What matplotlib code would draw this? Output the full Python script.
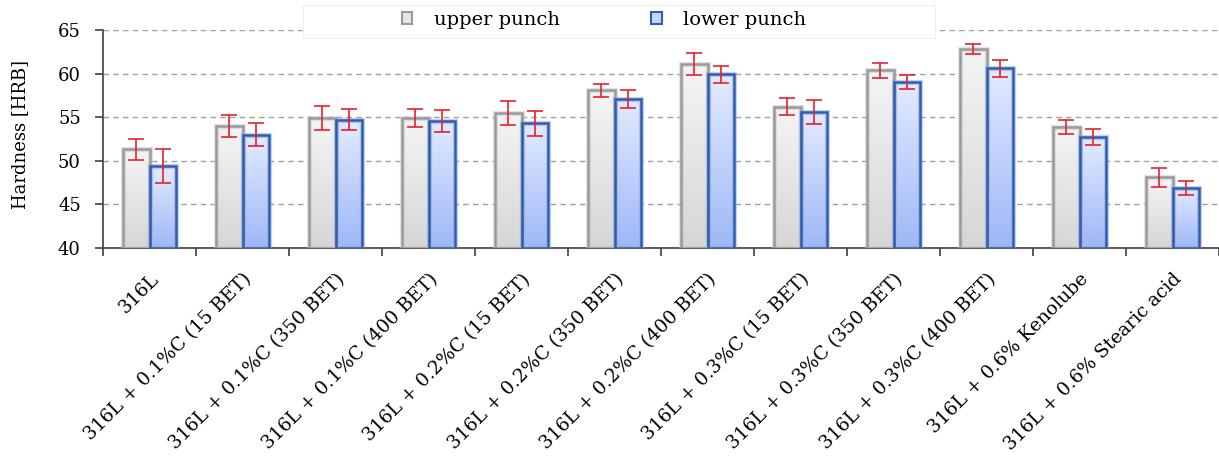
import numpy as np
import matplotlib.pyplot as plt
from matplotlib.patches import Patch, Rectangle
import matplotlib.patheffects as pe

plt.rcParams['font.family'] = ['DejaVu Serif']

# hardness measurements (HRB), mean and standard deviation
categories = [
    "316L",
    "316L + 0.1%C (15 BET)",
    "316L + 0.1%C (350 BET)",
    "316L + 0.1%C (400 BET)",
    "316L + 0.2%C (15 BET)",
    "316L + 0.2%C (350 BET)",
    "316L + 0.2%C (400 BET)",
    "316L + 0.3%C (15 BET)",
    "316L + 0.3%C (350 BET)",
    "316L + 0.3%C (400 BET)",
    "316L + 0.6% Kenolube",
    "316L + 0.6% Stearic acid",
]
upper_mean = [51.3, 54.0, 54.9, 54.9, 55.5, 58.1, 61.1, 56.2, 60.4, 62.8, 53.9, 48.1]
upper_std = [1.2, 1.3, 1.35, 1.05, 1.4, 0.75, 1.25, 0.95, 0.85, 0.6, 0.8, 1.05]
lower_mean = [49.4, 53.0, 54.7, 54.6, 54.3, 57.1, 59.9, 55.6, 59.0, 60.6, 52.7, 46.9]
lower_std = [1.9, 1.35, 1.2, 1.25, 1.4, 1.05, 1.0, 1.35, 0.8, 1.0, 0.9, 0.8]

YMIN, YMAX = 40, 65
BAR_W = 0.29

fig = plt.figure(figsize=(12.19, 4.61), dpi=100)
ax = fig.add_axes([103 / 1219, 1 - 248 / 461, 1 - 103 / 1219, (248 - 30) / 461])

x = np.arange(len(categories))


def gradient_bars(xpos, heights, top_rgb, bot_rgb, edge, shadow):
    """Bars filled with a vertical colour gradient (light at top)."""
    t = np.linspace(0, 1, 64)[:, None]
    top = np.array(top_rgb)
    bot = np.array(bot_rgb)
    img = (bot * (1 - t) + top * t)[:, None, :]  # row 0 = bottom (origin lower)
    bars = ax.bar(xpos, np.array(heights) - YMIN, BAR_W, bottom=YMIN,
                  facecolor='none', edgecolor=edge, linewidth=1.8, zorder=4)
    for b in bars:
        x0, w, h = b.get_x(), b.get_width(), b.get_height()
        ax.imshow(img, extent=[x0, x0 + w, YMIN, YMIN + h], origin='lower',
                  aspect='auto', zorder=3, interpolation='bilinear')
        b.set_path_effects([pe.Stroke(linewidth=3.8, foreground=shadow, alpha=0.5),
                            pe.Normal()])
    return bars


gradient_bars(x - BAR_W / 2, upper_mean, (0.96, 0.96, 0.96), (0.84, 0.84, 0.84),
              '#9a9a9a', '#c8c8c8')
gradient_bars(x + BAR_W / 2, lower_mean, (0.89, 0.92, 1.0), (0.62, 0.72, 0.97),
              '#2f5db3', '#8fa8d8')

ax.errorbar(x - BAR_W / 2, upper_mean, yerr=upper_std, fmt='none',
            ecolor='#e8212a', elinewidth=1.2, capsize=6, capthick=1.2, zorder=5)
ax.errorbar(x + BAR_W / 2, lower_mean, yerr=lower_std, fmt='none',
            ecolor='#e8212a', elinewidth=1.2, capsize=6, capthick=1.2, zorder=5)

ax.set_xlim(-0.5, len(categories) - 0.5)
ax.set_ylim(YMIN, YMAX)
ax.set_yticks([40, 45, 50, 55, 60, 65])
ax.yaxis.grid(True, linestyle=(0, (4, 3)), color='#a0a0a0', linewidth=1.0)
ax.set_axisbelow(True)

ax.set_xticks(x)
ax.set_xticklabels(categories, rotation=45, ha='right', rotation_mode='anchor',
                   fontsize=13.5)
ax.set_xticks(np.arange(len(categories) + 1) - 0.5, minor=True)
ax.tick_params(axis='x', which='major', length=0, pad=16)
ax.tick_params(axis='x', which='minor', length=6, width=1.2, color='#404040')
ax.tick_params(axis='y', length=6, width=1.2, color='#404040', labelsize=13, pad=10)
ax.set_ylabel("Hardness [HRB]", fontsize=13)
ax.yaxis.set_label_coords(-74 / 1116, 0.52)

for s in ['top', 'right']:
    ax.spines[s].set_visible(False)
for s in ['left', 'bottom']:
    ax.spines[s].set_color('#404040')
    ax.spines[s].set_linewidth(1.2)

# legend box across the top
fig.patches.append(Rectangle((303 / 1219, 1 - 38 / 461), 632 / 1219, 33 / 461,
                             transform=fig.transFigure, facecolor='white',
                             edgecolor='#f0f0f0', linewidth=0.8, zorder=10))
handles = [Patch(facecolor='#e6e6e6', edgecolor='#9a9a9a', linewidth=1.5),
           Patch(facecolor='#c8d6fb', edgecolor='#2f5db3', linewidth=1.5)]
leg = fig.legend(handles, ["upper punch", "lower punch"], loc='center',
                 bbox_to_anchor=(604 / 1219, 1 - 20 / 461), ncol=2, frameon=False,
                 fontsize=14, handlelength=0.55, handleheight=0.55,
                 handletextpad=1.1, columnspacing=4.7)
leg.set_zorder(11)

fig.savefig("out.png", dpi=100)
